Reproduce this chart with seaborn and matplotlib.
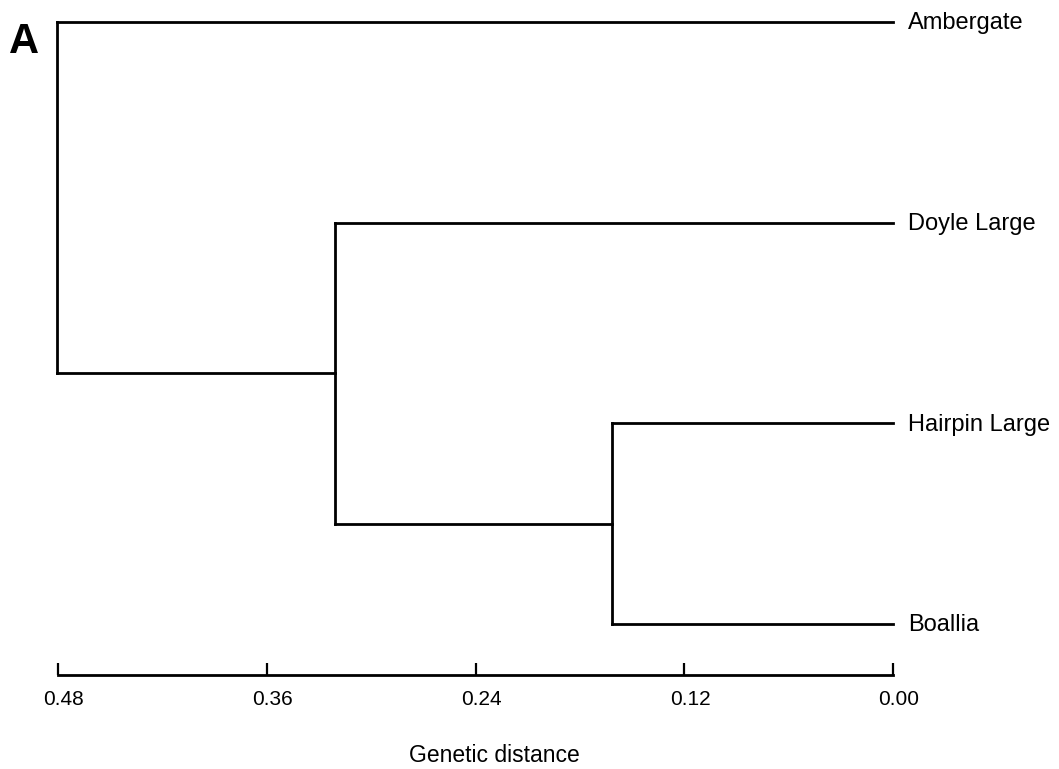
import pandas as pd
import matplotlib.pyplot as plt
import matplotlib.transforms as mtransforms
import seaborn as sns

# leaves, top to bottom
leaves = ['Ambergate', 'Doyle Large', 'Hairpin Large', 'Boallia']
leaf_y = [3, 2, 1, 0]

# joins, scipy style: ids 0..3 are leaves, 4.. are the joins below
join_a = [2, 1, 0]
join_b = [3, 4, 5]
join_height = [0.1615, 0.3208, 0.4806]

ticks = [0.48, 0.36, 0.24, 0.12, 0.00]
tick_labels = ['0.48', '0.36', '0.24', '0.12', '0.00']


def build_segments():
    xs = {i: 0.0 for i in range(len(leaves))}
    ys = {i: y for i, y in enumerate(leaf_y)}
    rows = []
    seg = 0
    for k, (a, b, h) in enumerate(zip(join_a, join_b, join_height)):
        node = len(leaves) + k
        for child in (a, b):
            rows.append((seg, xs[child], ys[child]))
            rows.append((seg, h, ys[child]))
            seg += 1
        rows.append((seg, h, ys[a]))
        rows.append((seg, h, ys[b]))
        seg += 1
        xs[node] = h
        ys[node] = (ys[a] + ys[b]) / 2
    return pd.DataFrame(rows, columns=['seg', 'x', 'y'])


sns.set_style('white')
plt.rcParams['font.family'] = ['Liberation Sans', 'DejaVu Sans']
plt.rcParams['text.color'] = 'black'
plt.rcParams['axes.labelcolor'] = 'black'
plt.rcParams['xtick.color'] = 'black'

fig = plt.figure(figsize=(10.59, 7.69), dpi=100)
ax = fig.add_axes([58 / 1059, 1 - 675 / 769, (893 - 58) / 1059, 665 / 769])

df = build_segments()
sns.lineplot(data=df, x='x', y='y', units='seg', estimator=None, sort=False,
             color='black', lw=2.0, ax=ax)
for line in ax.lines:
    line.set_clip_on(False)
    line.set_solid_capstyle('projecting')

for name, y in zip(leaves, leaf_y):
    ax.annotate(name, (0, y), xytext=(11, -1), textcoords='offset points',
                va='center', ha='left', fontsize=17, annotation_clip=False)

ax.set_xlim(0.48, 0.0)
ax.set_ylim(-0.254, 3.06)
ax.set_yticks([])
ax.set_xticks(ticks)
ax.set_xticklabels(tick_labels, fontsize=15)
ax.tick_params(axis='x', direction='in', length=8.6, width=1.6, pad=11,
               bottom=True)
# labels in the source sit a little right of their ticks
shift = mtransforms.ScaledTranslation(6 / 100, 0, fig.dpi_scale_trans)
for lab in ax.get_xticklabels():
    lab.set_transform(lab.get_transform() + shift)
for side in ['top', 'right', 'left']:
    ax.spines[side].set_visible(False)
ax.spines['bottom'].set_linewidth(2.0)
ax.spines['bottom'].set_color('black')
ax.set_xlabel('Genetic distance', fontsize=16.5)
ax.xaxis.set_label_coords((494 - 58) / 835, (675 - 755) / 665)
ax.xaxis.label.set_va('center')
ax.set_ylabel('')

fig.text(9 / 1059, 1 - 22 / 769, 'A', fontsize=30, fontweight='bold',
         va='top', ha='left')

fig.savefig('out.png', dpi=100, facecolor='white')
